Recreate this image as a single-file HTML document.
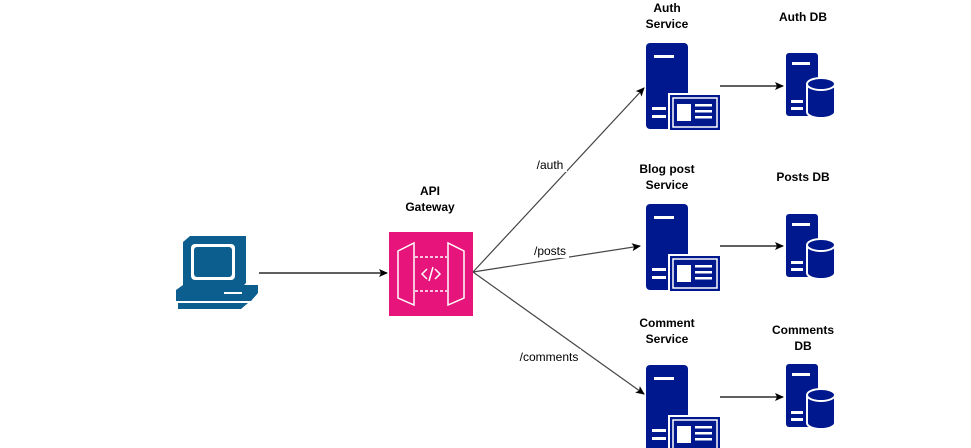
<!DOCTYPE html>
<html><head><meta charset="utf-8"><style>
html,body{margin:0;padding:0;background:#fff;width:971px;height:448px;overflow:hidden}
text{font-family:"Liberation Sans",Arial,sans-serif;font-size:12px;fill:#000}
.b{font-weight:bold}
</style></head><body>
<svg width="971" height="448" xmlns="http://www.w3.org/2000/svg">
<defs>
<marker id="a" markerWidth="10" markerHeight="10" refX="8" refY="5" orient="auto" markerUnits="userSpaceOnUse">
<path d="M0,1 L9,5 L0,9 L2,5 z" fill="#000"/></marker>
<g id="srv">
<rect x="0" y="0" width="42" height="86" rx="4" fill="#00188d"/>
<rect x="8" y="12" width="20" height="3" fill="#fff"/>
<rect x="6" y="64" width="14" height="3" fill="#fff"/>
<rect x="6" y="72" width="14" height="3" fill="#fff"/>
<rect x="23" y="51" width="52" height="37" fill="#00188d" stroke="#fff" stroke-width="2"/>
<rect x="27" y="55" width="44" height="29" fill="none" stroke="#fff" stroke-width="1.5"/>
<rect x="31" y="61" width="14" height="17" fill="#fff"/>
<rect x="49" y="61" width="17" height="2.5" fill="#fff"/>
<rect x="49" y="67" width="17" height="2.5" fill="#fff"/>
<rect x="49" y="73" width="17" height="2.5" fill="#fff"/>
</g>
<g id="db">
<rect x="0" y="0" width="32" height="63" rx="3" fill="#00188d"/>
<rect x="6" y="9" width="18" height="3" fill="#fff"/>
<rect x="5" y="47" width="12" height="3" fill="#fff"/>
<rect x="5" y="54" width="12" height="3" fill="#fff"/>
<path d="M21,31 a14,6 0 0 1 28,0 v28 a14,6 0 0 1 -28,0 z" fill="#00188d" stroke="#fff" stroke-width="2"/>
<path d="M21,31 a14,6 0 0 0 28,0" fill="none" stroke="#fff" stroke-width="2"/>
</g>
</defs>

<!-- computer -->
<g fill="#0c5e8f">
<path d="M183,242 L190,236 L246,236 L246,283 L240,289 L183,289 z"/>
<rect x="191" y="244" width="44" height="36" rx="4" fill="#fff"/>
<rect x="194" y="247" width="38" height="30" rx="3"/>
<path d="M176,290 L183,285 L258,285 L258,293 L251,301 L176,301 z"/>
<rect x="224" y="292" width="18" height="2" fill="#fff"/>
<path d="M178,303 L248,303 L241,309 L178,309 z"/>
</g>
<line x1="259" y1="273" x2="387" y2="273" stroke="#000" stroke-width="1.2" marker-end="url(#a)"/>

<!-- gateway -->
<rect x="389" y="232" width="84" height="84" fill="#e7157b"/>
<g fill="none" stroke="#fff" stroke-width="1.5">
<path d="M398,251 L414,243 L414,305 L398,298 z"/>
<path d="M464,251 L448,243 L448,305 L464,298 z"/>
<path d="M415,257 H447 M415,291 H447" stroke-dasharray="3,2"/>
<path d="M427,269 L422,274 L427,279 M435,269 L440,274 L435,279 M433,267 L429,281"/>
</g>
<text class="b" x="430" y="195" text-anchor="middle">API</text>
<text class="b" x="430" y="211" text-anchor="middle">Gateway</text>

<!-- gateway arrows -->
<g stroke="#444" stroke-width="1.2" fill="none">
<line x1="473" y1="272" x2="644" y2="88" marker-end="url(#a)"/>
<line x1="473" y1="272" x2="640" y2="246" marker-end="url(#a)"/>
<line x1="473" y1="272" x2="644" y2="394" marker-end="url(#a)"/>
</g>
<rect x="533" y="157" width="34" height="15" fill="#fff"/>
<text x="550" y="169" text-anchor="middle">/auth</text>
<rect x="531" y="243" width="38" height="15" fill="#fff"/>
<text x="550" y="255" text-anchor="middle">/posts</text>
<rect x="517" y="349" width="64" height="15" fill="#fff"/>
<text x="549" y="361" text-anchor="middle">/comments</text>

<!-- services -->
<use href="#srv" x="646" y="43"/>
<use href="#srv" x="646" y="204"/>
<use href="#srv" x="646" y="365"/>
<text class="b" x="667" y="12" text-anchor="middle">Auth</text>
<text class="b" x="667" y="28" text-anchor="middle">Service</text>
<text class="b" x="667" y="173" text-anchor="middle">Blog post</text>
<text class="b" x="667" y="189" text-anchor="middle">Service</text>
<text class="b" x="667" y="327" text-anchor="middle">Comment</text>
<text class="b" x="667" y="343" text-anchor="middle">Service</text>

<g stroke="#000" stroke-width="1.2">
<line x1="720" y1="86" x2="783" y2="86" marker-end="url(#a)"/>
<line x1="720" y1="246" x2="783" y2="246" marker-end="url(#a)"/>
<line x1="720" y1="397" x2="783" y2="397" marker-end="url(#a)"/>
</g>

<!-- DBs -->
<use href="#db" x="786" y="53"/>
<use href="#db" x="786" y="214"/>
<use href="#db" x="786" y="364"/>
<text class="b" x="803" y="21" text-anchor="middle">Auth DB</text>
<text class="b" x="803" y="181" text-anchor="middle">Posts DB</text>
<text class="b" x="803" y="334" text-anchor="middle">Comments</text>
<text class="b" x="803" y="350" text-anchor="middle">DB</text>
</svg>
</body></html>
